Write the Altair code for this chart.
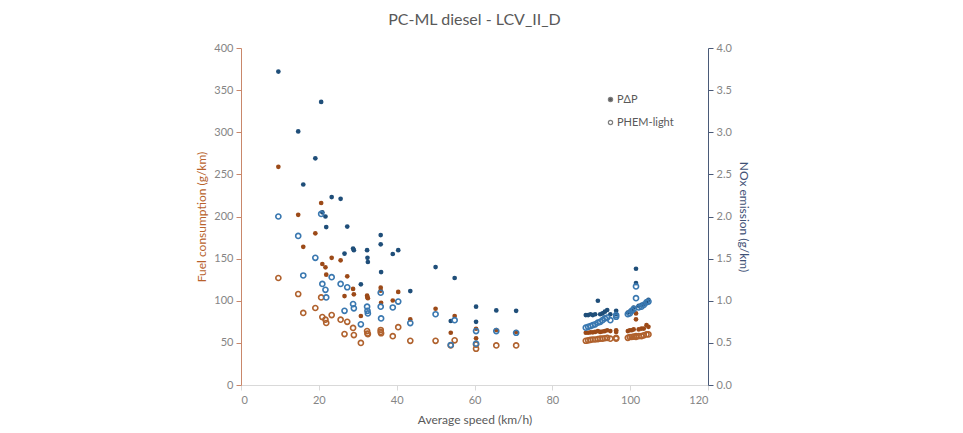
import altair as alt
import pandas as pd

# Trip-level results: average speed with fuel use and NOx from both models
speed = [9.6, 14.7, 16.0, 19.1, 20.6, 20.9, 21.7, 21.9, 23.3, 25.6, 26.6, 27.3,
         28.8, 29.0, 30.8, 32.4, 32.5, 32.6, 35.9, 35.9, 36.0, 39.0, 40.4, 43.5,
         50.0, 53.9, 54.9, 60.4, 60.4, 65.6, 70.7,
         88.6, 89.2, 89.8, 90.4, 91.0, 91.7, 92.3, 92.9, 93.5, 94.1, 94.9, 96.4, 96.4,
         99.4, 99.9, 100.4, 100.9, 101.5, 101.5, 102.2, 102.9, 103.5, 104.2, 104.7]

fuel_pdp = [259, 202, 164, 180, 216, 143.6, 139.7, 131, 151, 148, 105.6, 129,
            114, 107.6, 81.9, 106, 104, 103, 115.5, 112, 97.5, 100.3, 110.5, 77.8,
            90.5, 62, 81.9, 66.8, 55.4, 65.3, 62.9,
            62, 62, 62.5, 62.5, 63, 64, 63, 63.5, 64, 65, 64, 65, 63,
            64, 65, 65, 66, 85, 78, 66, 67, 67, 71, 69]

fuel_phem = [127, 108, 85.5, 91.4, 104, 80.7, 77.5, 73.6, 83, 77.5, 60.5, 75,
             67.7, 59.3, 49.9, 64, 61, 60.5, 65.3, 63, 61.4, 58, 68.6, 52.4,
             52.4, 47, 53, 48, 43, 47, 47,
             52.5, 53, 53.5, 54, 54, 54.5, 55, 55, 55.5, 56, 55, 56, 55,
             56, 57, 57, 57.5, 58, 57, 58, 58, 59, 60, 60]

nox_pdp = [3.72, 3.01, 2.38, 2.69, 3.36, 2.05, 2.00, 1.875, 2.23, 2.21, 1.56, 1.88,
           1.62, 1.60, 1.195, 1.60, 1.51, 1.46, 1.78, 1.67, 1.34, 1.555, 1.60, 1.115,
           1.40, 0.76, 1.27, 0.93, 0.75, 0.885, 0.88,
           0.83, 0.83, 0.84, 0.83, 0.84, 1.00, 0.84, 0.85, 0.87, 0.89, 0.84, 0.88, 0.84,
           0.86, 0.87, 0.89, 0.92, 1.38, 1.21, 0.94, 0.95, 0.96, 0.99, 1.01]

nox_phem = [2.00, 1.77, 1.30, 1.51, 2.03, 1.20, 1.13, 1.04, 1.28, 1.20, 0.88, 1.16,
            0.96, 0.91, 0.72, 0.93, 0.88, 0.85, 1.095, 0.93, 0.79, 0.92, 0.99, 0.735,
            0.84, 0.475, 0.77, 0.64, 0.49, 0.64, 0.62,
            0.68, 0.69, 0.70, 0.71, 0.72, 0.74, 0.75, 0.77, 0.79, 0.80, 0.77, 0.83, 0.81,
            0.84, 0.85, 0.88, 0.90, 1.17, 1.03, 0.92, 0.93, 0.95, 0.98, 0.99]

models = ["PΔP", "PHEM-light"]

df = pd.DataFrame({
    "speed": speed,
    "fuel_pdp": fuel_pdp,
    "fuel_phem": fuel_phem,
    "nox_pdp": nox_pdp,
    "nox_phem": nox_phem,
})
legend_df = pd.DataFrame({"model": models})

BROWN = "#9C4A18"
BROWN_RING = "#B0622E"
BLUE = "#1F4E79"
BLUE_RING = "#3A78B0"
GREY = "#595959"
LABEL_GREY = "#858585"

x_enc = alt.X(
    "speed:Q",
    scale=alt.Scale(domain=[0, 120], nice=False),
    axis=alt.Axis(
        title="Average speed (km/h)",
        values=[0, 20, 40, 60, 80, 100, 120],
        grid=False,
        domainColor="#D9D9D9",
        tickColor="#D9D9D9",
        tickSize=5,
        labelColor=LABEL_GREY,
        labelFontSize=11,
        labelPadding=4,
        titleColor=GREY,
        titleFontSize=12,
        titleFontWeight="normal",
        titlePadding=9,
    ),
)

fuel_axis = alt.Axis(
    title="Fuel consumption (g/km)",
    orient="left",
    values=[0, 50, 100, 150, 200, 250, 300, 350, 400],
    grid=False,
    domainColor="#C9876A",
    tickColor="#C9876A",
    tickSize=5,
    labelColor=LABEL_GREY,
    labelFontSize=11,
    labelPadding=3,
    titleColor="#B8622C",
    titleFontSize=12,
    titleFontWeight="normal",
    titlePadding=5,
)

nox_axis = alt.Axis(
    title="NOx emission (g/km)",
    orient="right",
    values=[0, 0.5, 1.0, 1.5, 2.0, 2.5, 3.0, 3.5, 4.0],
    format=".1f",
    grid=False,
    domainColor="#4A5A78",
    tickColor="#4A5A78",
    tickSize=5,
    labelColor=LABEL_GREY,
    labelFontSize=11,
    labelPadding=3,
    titleColor="#3E5075",
    titleFontSize=12,
    titleFontWeight="normal",
    titlePadding=5,
)

fuel_scale = alt.Scale(domain=[0, 400], nice=False)
nox_scale = alt.Scale(domain=[0, 4], nice=False)

base = alt.Chart(df).encode(x=x_enc)

fuel_p = base.mark_circle(size=22, color=BROWN, opacity=1).encode(
    y=alt.Y("fuel_pdp:Q", scale=fuel_scale, axis=fuel_axis)
)
fuel_h = base.mark_point(size=26, color=BROWN_RING, strokeWidth=1.6, opacity=1).encode(
    y=alt.Y("fuel_phem:Q", scale=fuel_scale, axis=fuel_axis)
)
nox_p = base.mark_circle(size=22, color=BLUE, opacity=1).encode(
    y=alt.Y("nox_pdp:Q", scale=nox_scale, axis=nox_axis)
)
nox_h = base.mark_point(size=26, color=BLUE_RING, strokeWidth=1.6, opacity=1).encode(
    y=alt.Y("nox_phem:Q", scale=nox_scale, axis=nox_axis)
)

# Legend keyed on the model: filled dot for PΔP, open ring for PHEM-light
legend_layer = alt.Chart(legend_df).mark_point(filled=True, opacity=0).encode(
    fill=alt.Fill(
        "model:N",
        scale=alt.Scale(domain=models, range=[GREY, "#FFFFFF"]),
        sort=models,
        legend=alt.Legend(
            title=None,
            orient="none",
            legendX=364,
            legendY=46,
            padding=0,
            symbolType="circle",
            symbolSize=18,
            symbolStrokeColor="#7F7F7F",
            symbolStrokeWidth=1.2,
            symbolOpacity=1,
            rowPadding=11,
            labelFontSize=11,
            labelColor=GREY,
            labelOffset=1,
        ),
    )
)

fuel_layer = alt.layer(fuel_p, fuel_h)
nox_layer = alt.layer(nox_p, nox_h)

chart = (
    alt.layer(fuel_layer, nox_layer, legend_layer)
    .resolve_scale(y="independent", fill="independent")
    .properties(
        width=467,
        height=337,
        padding={"left": 241, "top": 48, "right": 255, "bottom": 48},
        autosize=alt.AutoSizeParams(type="none"),
        title=alt.Title(
            "PC-ML diesel - LCV_II_D",
            fontSize=16,
            fontWeight="normal",
            color=GREY,
            anchor="middle",
            offset=14,
        ),
    )
    .configure(font="Lato")
    .configure_view(stroke=None)
)

chart.save("out.html", embed_options={"renderer": "svg", "actions": False})
